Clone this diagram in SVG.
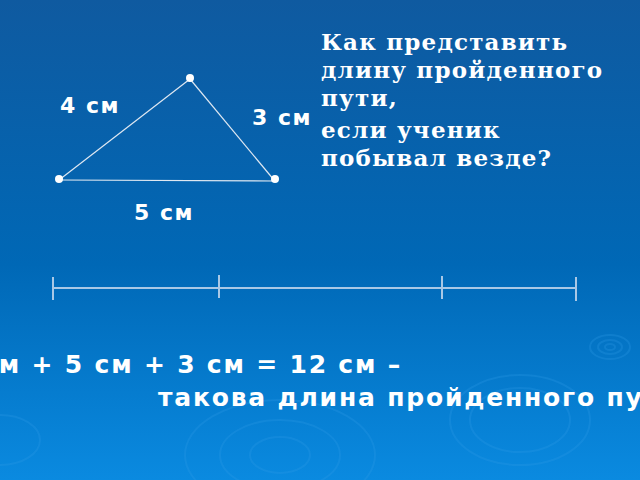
<svg xmlns="http://www.w3.org/2000/svg" width="640" height="480" viewBox="0 0 640 480">
<defs>
<linearGradient id="bg" x1="0" y1="0" x2="0" y2="1">
<stop offset="0" stop-color="#0f5aa0"/>
<stop offset="0.55" stop-color="#0068b6"/>
<stop offset="1" stop-color="#0a8ae0"/>
</linearGradient>
<style>
.lbl{font-family:"DejaVu Sans",Verdana,sans-serif;font-weight:bold;fill:#ffffff;font-size:22px;letter-spacing:1.5px}
.q{font-family:"DejaVu Serif","Liberation Serif",serif;font-weight:bold;fill:#ffffff;font-size:23px;letter-spacing:1.2px}
.eq{font-family:"DejaVu Sans",Verdana,sans-serif;font-weight:bold;fill:#ffffff;font-size:25px;letter-spacing:1.8px}
.edge{stroke:#dfe8f2;stroke-width:1.2;fill:none}
.dot{fill:#ffffff}
.seg{stroke:#a9c8e6;stroke-width:2;fill:none}
.rip{fill:none;stroke:#2f9be6;stroke-opacity:0.28;stroke-width:2}
</style>
</defs>
<rect x="0" y="0" width="640" height="480" fill="url(#bg)"/>
<g id="ripples">
<ellipse class="rip" cx="610" cy="347" rx="20" ry="12"/>
<ellipse class="rip" cx="610" cy="347" rx="12" ry="7"/>
<ellipse class="rip" cx="610" cy="347" rx="5" ry="3"/>
<ellipse class="rip" cx="520" cy="420" rx="70" ry="45"/>
<ellipse class="rip" cx="520" cy="420" rx="50" ry="32"/>
<ellipse class="rip" cx="280" cy="455" rx="95" ry="55"/>
<ellipse class="rip" cx="280" cy="455" rx="60" ry="35"/>
<ellipse class="rip" cx="280" cy="455" rx="30" ry="18"/>
<ellipse class="rip" cx="0" cy="440" rx="40" ry="25"/>
</g>
<g id="connectors">
<line class="edge" x1="190" y1="79" x2="59" y2="180"/>
<line class="edge" x1="190" y1="79" x2="274" y2="180"/>
<line class="edge" x1="59" y1="180" x2="274" y2="181"/>
<line class="seg" x1="53" y1="288" x2="576" y2="288"/>
<line class="seg" x1="53" y1="277" x2="53" y2="300"/>
<line class="seg" x1="219" y1="275" x2="219" y2="298"/>
<line class="seg" x1="442" y1="276" x2="442" y2="299"/>
<line class="seg" x1="576" y1="277" x2="576" y2="301"/>
</g>
<g id="vertex-top"><circle class="dot" cx="190" cy="78" r="4"/></g>
<g id="vertex-left"><circle class="dot" cx="59" cy="179" r="4"/></g>
<g id="vertex-right"><circle class="dot" cx="275" cy="179" r="4"/></g>
<g id="label-4"><text class="lbl" x="60" y="113">4 см</text></g>
<g id="label-3"><text class="lbl" x="252" y="125">3 см</text></g>
<g id="label-5"><text class="lbl" x="134" y="220">5 см</text></g>
<g id="question">
<text class="q" x="321" y="50">Как представить</text>
<text class="q" x="321" y="78">длину пройденного</text>
<text class="q" x="321" y="106">пути,</text>
<text class="q" x="321" y="138">если ученик</text>
<text class="q" x="321" y="166">побывал везде?</text>
</g>
<g id="equation">
<text class="eq" x="402" y="373" text-anchor="end">4 см + 5 см + 3 см = 12 см –</text>
<text class="eq" x="158" y="406">такова длина пройденного пути</text>
</g>
</svg>
